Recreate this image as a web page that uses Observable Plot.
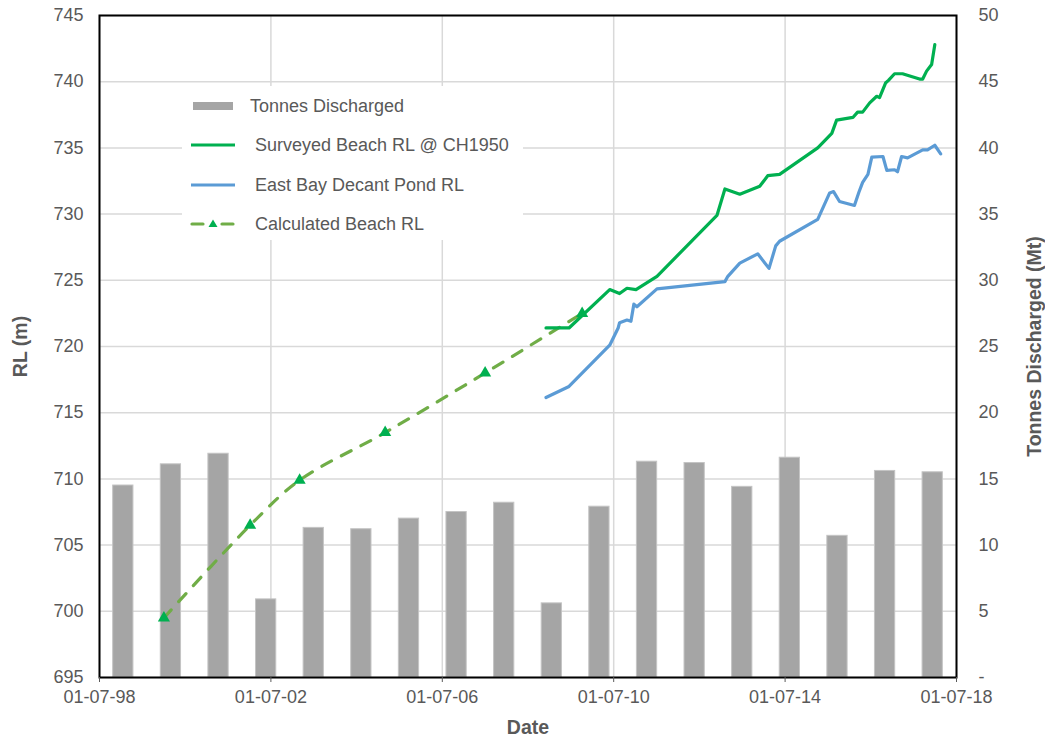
<!DOCTYPE html>
<html><head><meta charset="utf-8">
<script src="https://cdn.jsdelivr.net/npm/d3@7"></script>
<script src="https://cdn.jsdelivr.net/npm/@observablehq/plot@0.6"></script>
<style>
body{margin:0;background:#fff;font-family:"Liberation Sans",Arial,sans-serif;}
#wrap{position:relative;width:1045px;height:736px;}
#legend{position:absolute;left:182px;top:86px;width:341px;height:154px;background:#fff;z-index:2;}
.row{position:absolute;left:0;height:24px;width:341px;}
.row svg{position:absolute;left:0;top:0;}
.row span{position:absolute;top:1px;font-size:18px;color:#595959;line-height:22px;white-space:nowrap;}
svg g[aria-label$="-axis label"] text, svg g[aria-label$="-axis label"]{font-weight:bold;font-size:19.5px;}
</style></head><body><div id="wrap"></div>
<script>
// ---- data ----
const xStartStr = "1998-07-01";
const xEndStr = "2018-07-01";
const rlTicks = [695,700,705,710,715,720,725,730,735,740,745];
const tonnesTicks = [0,5,10,15,20,25,30,35,40,45,50];
const dateTickStrs = ["1998-07-01","2002-07-01","2006-07-01","2010-07-01","2014-07-01","2018-07-01"];

const fiscalYears = ["FY99","FY00","FY01","FY02","FY03","FY04","FY05","FY06","FY07","FY08","FY09","FY10","FY11","FY12","FY13","FY14","FY15","FY16"];
const tonnesDischarged = [14.5,16.1,16.9,5.9,11.3,11.2,12.0,12.5,13.2,5.6,12.9,16.3,16.2,14.4,16.6,10.7,15.6,15.5];

const surveyedDates = ["2008-12-01","2009-06-15","2010-05-28","2010-08-20","2010-10-22","2011-01-07","2011-07-05","2012-11-27","2013-02-03","2013-06-10","2013-11-27","2014-02-03","2014-05-15","2015-04-05","2015-08-03","2015-09-13","2016-01-30","2016-03-10","2016-04-22","2016-06-21","2016-08-20","2016-09-13","2016-11-03","2016-11-28","2017-01-19","2017-03-28","2017-08-20","2017-09-16","2017-10-19","2017-12-01","2017-12-28"];
const surveyedRL = [721.4,721.4,724.3,724.0,724.4,724.3,725.3,729.9,731.9,731.5,732.1,732.9,733.0,735.0,736.1,737.1,737.3,737.7,737.7,738.4,738.9,738.8,739.9,740.1,740.6,740.6,740.2,740.2,740.8,741.3,742.8];

const pondDates = ["2008-12-01","2009-06-15","2010-05-28","2010-08-08","2010-08-20","2010-10-22","2010-11-25","2010-12-20","2011-01-15","2011-07-05","2013-02-03","2013-02-28","2013-06-10","2013-11-10","2014-02-14","2014-04-12","2014-05-15","2015-04-05","2015-07-16","2015-08-18","2015-10-08","2016-02-12","2016-03-21","2016-04-22","2016-06-06","2016-07-09","2016-10-12","2016-11-14","2017-01-19","2017-02-13","2017-03-20","2017-05-10","2017-09-16","2017-10-27","2017-12-28","2018-02-16"];
const pondRL = [716.15,716.98,720.1,721.4,721.8,722.0,721.9,723.2,723.0,724.35,724.9,725.3,726.3,727.0,725.9,727.6,727.95,729.6,731.6,731.7,730.95,730.65,731.65,732.4,733.0,734.3,734.35,733.3,733.35,733.2,734.35,734.25,734.85,734.85,735.2,734.55];

const calcDates = ["2000-01-01","2002-01-05","2003-03-03","2005-03-01","2007-07-01","2009-10-05"];
const calcRL = [699.5,706.5,709.9,713.5,718.0,722.5];

// ---- build ----
const parse = s => new Date(s + "T00:00:00Z");
const xStart = parse(xStartStr), xEnd = parse(xEndStr);
const dateTicks = dateTickStrs.map(parse);
const rlMin = rlTicks[0];
const rlFromTonnes = v => rlMin + v * ((rlTicks[rlTicks.length-1]-rlMin)/(tonnesTicks[tonnesTicks.length-1]-tonnesTicks[0]));

// secondary category axis for the bars (Excel-style, 18 bands over full width)
const gap = 1.35;
const band = d3.scaleBand().domain(fiscalYears).range([+xStart, +xEnd])
  .paddingInner(gap/(1+gap)).paddingOuter(gap/(1+gap)/2);
const barData = fiscalYears.map((fy,i)=>({fy, t: tonnesDischarged[i],
  x1: new Date(band(fy)), x2: new Date(band(fy)+band.bandwidth())}));
const surveyed = surveyedDates.map((d,i)=>({date:parse(d), rl:surveyedRL[i]}));
const pond = pondDates.map((d,i)=>({date:parse(d), rl:pondRL[i]}));
const calc = calcDates.map((d,i)=>({date:parse(d), rl:calcRL[i]}));

const chart = Plot.plot({
  width:1045, height:736,
  marginLeft:99, marginRight:89, marginTop:15, marginBottom:59,
  style:{fontFamily:'"Liberation Sans",Arial,sans-serif', fontSize:"18px", color:"#595959", background:"#fff"},
  x:{type:"utc", domain:[xStart,xEnd]},
  y:{domain:[rlTicks[0], rlTicks[rlTicks.length-1]]},
  marks:[
    Plot.gridY(rlTicks, {stroke:"#D9D9D9", strokeOpacity:1, strokeWidth:1.5}),
    Plot.gridX(dateTicks, {stroke:"#D9D9D9", strokeOpacity:1, strokeWidth:1.5}),
    Plot.rectY(barData, {x1:"x1", x2:"x2", y1:()=>rlFromTonnes(0), y2:d=>rlFromTonnes(d.t), fill:"#A5A5A5", stroke:"#C4C4C4", strokeWidth:1}),
    Plot.line(calc, {x:"date", y:"rl", stroke:"#70AD47", strokeWidth:3.2, strokeDasharray:"11 11", strokeLinecap:"round", curve:"catmull-rom"}),
    Plot.dot(calc, {x:"date", y:"rl", symbol:"triangle", fill:"#00B050", r:4.5}),
    Plot.line(pond, {x:"date", y:"rl", stroke:"#5B9BD5", strokeWidth:3.2, strokeLinejoin:"round"}),
    Plot.line(surveyed, {x:"date", y:"rl", stroke:"#00B050", strokeWidth:3.2, strokeLinejoin:"round"}),
    Plot.frame({stroke:"#000", strokeWidth:2}),
    Plot.axisY(rlTicks, {anchor:"left", tickSize:0, tickPadding:16, label:"RL (m)", labelAnchor:"center", labelArrow:"none", labelOffset:86}),
    Plot.axisY(tonnesTicks.map(rlFromTonnes), {anchor:"right", tickSize:0, tickPadding:22,
      tickFormat: d => { const v = Math.round(d - rlMin); return v === 0 ? "-" : String(v); },
      label:"Tonnes Discharged (Mt)", labelAnchor:"center", labelArrow:"none", labelOffset:84}),
    Plot.axisX(dateTicks, {anchor:"bottom", tickSize:5, tickPadding:8, tickFormat:d3.utcFormat("%d-%m-%y"),
      label:"Date", labelAnchor:"center", labelArrow:"none", labelOffset:56})
  ]
});
const wrap = document.getElementById("wrap");
wrap.appendChild(chart);

// ---- legend ----
const legendItems = [
  {name:"Tonnes Discharged", kind:"bar", color:"#A5A5A5", top:8, textLeft:68},
  {name:"Surveyed Beach RL @ CH1950", kind:"line", color:"#00B050", top:47, textLeft:73},
  {name:"East Bay Decant Pond RL", kind:"line", color:"#5B9BD5", top:87, textLeft:73},
  {name:"Calculated Beach RL", kind:"dash", color:"#70AD47", top:126, textLeft:73}
];
const legend = document.createElement("div");
legend.id = "legend";
for (const it of legendItems) {
  const row = document.createElement("div");
  row.className = "row";
  row.style.top = it.top + "px";
  let sw = "";
  if (it.kind === "bar") sw = `<rect x="11" y="8" width="40" height="8" fill="${it.color}"/>`;
  else if (it.kind === "line") sw = `<line x1="9" x2="53" y1="12" y2="12" stroke="${it.color}" stroke-width="3.2"/>`;
  else sw = `<line x1="10" x2="21" y1="12" y2="12" stroke="${it.color}" stroke-width="3.2" stroke-linecap="round"/><line x1="40" x2="51" y1="12" y2="12" stroke="${it.color}" stroke-width="3.2" stroke-linecap="round"/><path d="M31,7.5 L35.5,15 L26.5,15 Z" fill="#00B050"/>`;
  row.innerHTML = `<svg width="60" height="24">${sw}</svg><span style="left:${it.textLeft}px">${it.name}</span>`;
  legend.appendChild(row);
}
wrap.appendChild(legend);
</script>
</body></html>
